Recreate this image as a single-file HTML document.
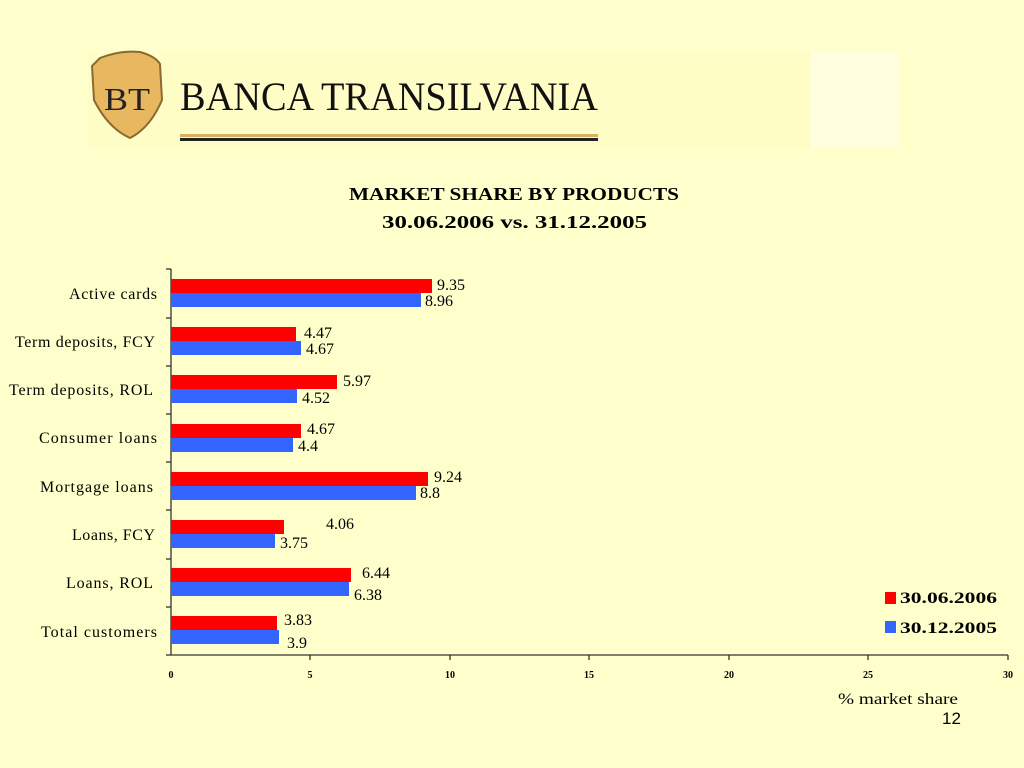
<!DOCTYPE html>
<html><head><meta charset="utf-8"><style>
body{margin:0;background:#FFFFCC;}
svg{display:block;}
</style></head><body>
<svg width="1024" height="768" xmlns="http://www.w3.org/2000/svg" font-family="'Liberation Serif',serif">
<rect width="1024" height="768" fill="#FFFFCC"/>
<rect x="88" y="52" width="812" height="96" fill="#FFFDC6"/>
<rect x="810" y="52" width="90" height="96" fill="#FFFFE0"/>
<path d="M100 58 Q120 50 140 52 Q155 56 160 64 L162 100 Q150 128 130 138 Q108 128 94 100 L92 66 Z" fill="#E8B860" stroke="#8a6a30" stroke-width="2"/>
<text x="104" y="110" font-size="32" fill="#222" textLength="46" lengthAdjust="spacingAndGlyphs">BT</text>
<text x="180" y="110" font-size="40" fill="#111" textLength="418" lengthAdjust="spacingAndGlyphs">BANCA TRANSILVANIA</text>
<rect x="180" y="134" width="418" height="3" fill="#D8B060"/>
<rect x="180" y="138" width="418" height="3" fill="#222"/>
<text x="349" y="200" font-size="18" font-weight="bold" textLength="330" lengthAdjust="spacingAndGlyphs">MARKET SHARE BY PRODUCTS</text>
<text x="382" y="228" font-size="18" font-weight="bold" textLength="265" lengthAdjust="spacingAndGlyphs">30.06.2006 vs. 31.12.2005</text>
<g stroke="#333" stroke-width="1.3">
<line x1="171" y1="269" x2="171" y2="655"/>
<line x1="171" y1="655" x2="1008" y2="655"/>
<line x1="166" y1="269" x2="171" y2="269"/><line x1="166" y1="318" x2="171" y2="318"/><line x1="166" y1="366" x2="171" y2="366"/><line x1="166" y1="414" x2="171" y2="414"/><line x1="166" y1="462" x2="171" y2="462"/><line x1="166" y1="510" x2="171" y2="510"/><line x1="166" y1="559" x2="171" y2="559"/><line x1="166" y1="607" x2="171" y2="607"/><line x1="166" y1="655" x2="171" y2="655"/>
<line x1="310" y1="655" x2="310" y2="660"/><line x1="450" y1="655" x2="450" y2="660"/><line x1="589" y1="655" x2="589" y2="660"/><line x1="729" y1="655" x2="729" y2="660"/><line x1="868" y1="655" x2="868" y2="660"/><line x1="1008" y1="655" x2="1008" y2="660"/>
</g>
<g font-size="10" font-weight="bold" text-anchor="middle">
<text x="171" y="678">0</text><text x="310" y="678">5</text><text x="450" y="678">10</text><text x="589" y="678">15</text><text x="729" y="678">20</text><text x="868" y="678">25</text><text x="1008" y="678">30</text>
</g>
<g fill="#FF0000">
<rect x="171" y="279" width="261" height="14"/>
<rect x="171" y="327" width="125" height="14"/>
<rect x="171" y="375" width="166" height="14"/>
<rect x="171" y="424" width="130" height="14"/>
<rect x="171" y="472" width="257" height="14"/>
<rect x="171" y="520" width="113" height="14"/>
<rect x="171" y="568" width="180" height="14"/>
<rect x="171" y="616" width="106" height="14"/>
</g>
<g fill="#3366FF">
<rect x="171" y="293" width="250" height="14"/>
<rect x="171" y="341" width="130" height="14"/>
<rect x="171" y="389" width="126" height="14"/>
<rect x="171" y="438" width="122" height="14"/>
<rect x="171" y="486" width="245" height="14"/>
<rect x="171" y="534" width="104" height="14"/>
<rect x="171" y="582" width="178" height="14"/>
<rect x="171" y="630" width="108" height="14"/>
</g>
<g font-size="16">
<text x="437" y="290">9.35</text><text x="425" y="306">8.96</text>
<text x="304" y="338">4.47</text><text x="306" y="354">4.67</text>
<text x="343" y="386">5.97</text><text x="302" y="403">4.52</text>
<text x="307" y="434">4.67</text><text x="298" y="451">4.4</text>
<text x="434" y="482">9.24</text><text x="420" y="498">8.8</text>
<text x="326" y="529">4.06</text><text x="280" y="548">3.75</text>
<text x="362" y="578">6.44</text><text x="354" y="600">6.38</text>
<text x="284" y="625">3.83</text><text x="287" y="648">3.9</text>
</g>
<g font-size="16" lengthAdjust="spacingAndGlyphs">
<text x="69" y="299" textLength="88">Active cards</text>
<text x="15" y="347" textLength="140">Term deposits, FCY</text>
<text x="9" y="395" textLength="144">Term deposits, ROL</text>
<text x="39" y="443" textLength="118">Consumer loans</text>
<text x="40" y="492" textLength="113">Mortgage loans</text>
<text x="72" y="540" textLength="83">Loans, FCY</text>
<text x="66" y="588" textLength="87">Loans, ROL</text>
<text x="41" y="637" textLength="116">Total customers</text>
</g>
<rect x="885" y="592" width="11" height="12" fill="#FF0000"/>
<text x="900" y="603" font-size="16" font-weight="bold" textLength="97" lengthAdjust="spacingAndGlyphs">30.06.2006</text>
<rect x="885" y="621" width="11" height="12" fill="#3366FF"/>
<text x="900" y="633" font-size="16" font-weight="bold" textLength="97" lengthAdjust="spacingAndGlyphs">30.12.2005</text>
<text x="838" y="704" font-size="16" textLength="120" lengthAdjust="spacingAndGlyphs">%  market share</text>
<text x="942" y="724" font-size="17" font-family="'Liberation Sans',sans-serif">12</text>
</svg>
</body></html>
